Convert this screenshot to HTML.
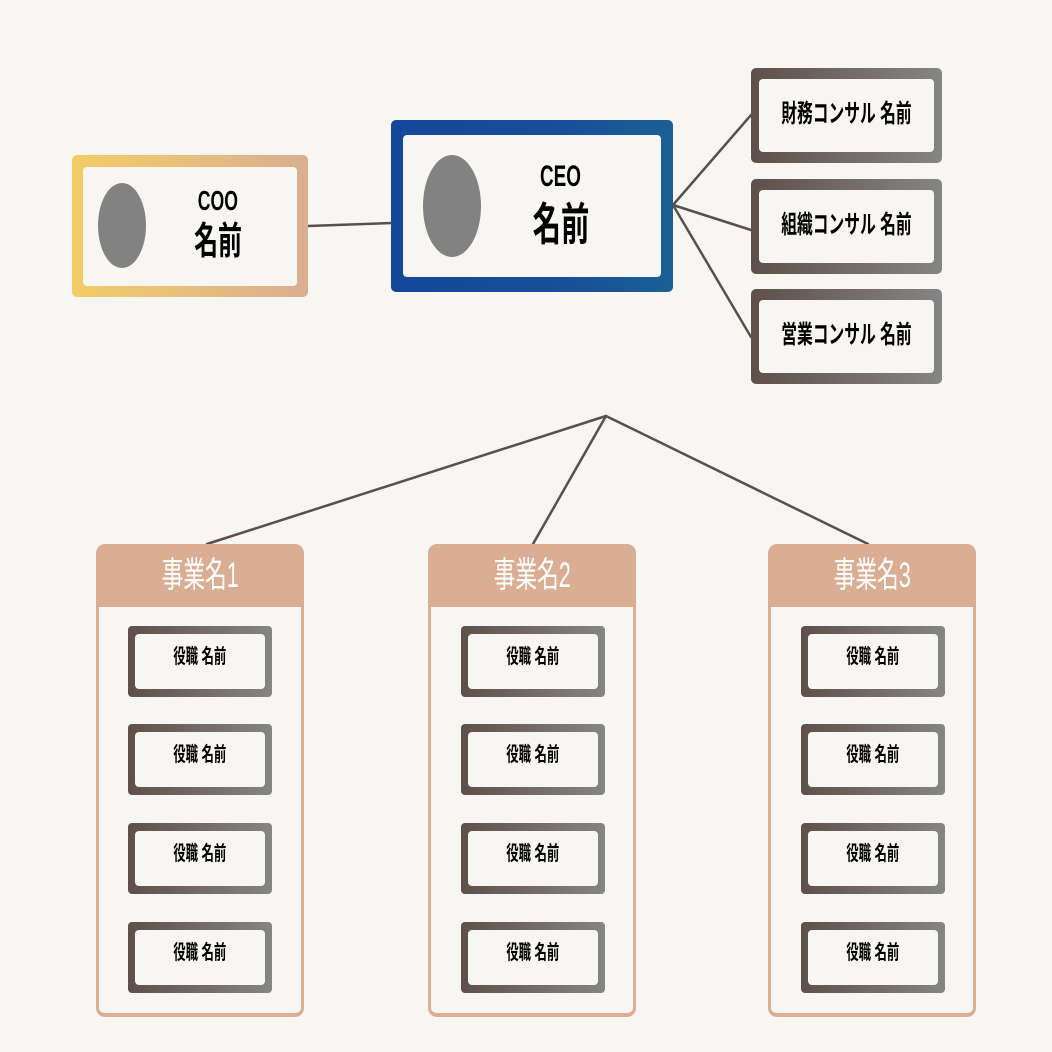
<!DOCTYPE html>
<html><head><meta charset="utf-8">
<style>
html,body{margin:0;padding:0;}
body{width:1052px;height:1052px;background:#f8f6f2;position:relative;overflow:hidden;font-family:"Liberation Sans","Noto Sans CJK JP",sans-serif;}
.abs{position:absolute;}
.box{position:absolute;border-radius:5px;}
.inner{position:absolute;background:#f8f6f2;border-radius:4px;display:flex;align-items:center;justify-content:center;flex-direction:column;}
.sq{display:inline-block;white-space:nowrap;font-weight:bold;color:#000;line-height:1;}
.gray{background:linear-gradient(90deg,#5e5049 0%,#858585 100%);}
.ell{position:absolute;background:#828282;border-radius:50%;}
.dept{position:absolute;width:208px;top:544px;height:473px;}
.dhead{position:absolute;left:0;top:0;width:208px;height:63px;background:#d9ae92;border-radius:9px 9px 0 0;display:flex;align-items:center;justify-content:center;}
.dhead span{display:inline-block;color:#fff;font-size:35px;font-family:"Liberation Sans","Noto Sans CJK JP",sans-serif;font-weight:normal;transform:scaleX(0.62);white-space:nowrap;line-height:1;margin-top:0px;}
.dbody{position:absolute;left:0;top:63px;width:202px;height:406px;border:3px solid #dcae92;border-top:none;border-bottom:4px solid #dcae92;border-radius:0 0 9px 9px;background:#f8f6f2;}
.role{position:absolute;width:144px;height:71px;border-radius:4px;}
.role .inner{left:7px;top:8px;right:7px;bottom:8px;}
.role .sq{font-size:20px;transform:scaleX(0.62);margin-top:-9px;}
.cons .inner{left:8px;top:11px;right:8px;bottom:11px;}
.cons .sq{font-size:25px;transform:scaleX(0.63);margin-top:-2px;}
</style></head><body>

<svg class="abs" style="left:0;top:0" width="1052" height="1052">
<g stroke="#5a4f4a" stroke-width="2.5" fill="none" stroke-linecap="round">
<line x1="308" y1="226" x2="391" y2="223"/>
<line x1="673" y1="205" x2="751" y2="115"/>
<line x1="673" y1="205" x2="751" y2="230"/>
<line x1="673" y1="205" x2="751" y2="337"/>
<line x1="606" y1="416" x2="207" y2="544"/>
<line x1="606" y1="416" x2="533" y2="544"/>
<line x1="606" y1="416" x2="868" y2="544"/>
</g>
</svg>

<!-- COO -->
<div class="box" style="left:72px;top:155px;width:236px;height:142px;background:linear-gradient(90deg,#f3cc66 0%,#e8c07a 45%,#d9ae92 100%);">
  <div class="inner" style="left:11px;top:12px;right:11px;bottom:11px;"></div>
</div>
<div class="ell" style="left:98px;top:183px;width:48px;height:85px;"></div>
<div class="abs" style="left:168px;top:187px;width:100px;text-align:center;"><span class="sq" style="font-size:28px;transform:scaleX(0.63);">COO</span></div>
<div class="abs" style="left:168px;top:223px;width:100px;text-align:center;"><span class="sq" style="font-size:38px;transform:scaleX(0.63);">名前</span></div>

<!-- CEO -->
<div class="box" style="left:391px;top:120px;width:282px;height:172px;background:linear-gradient(90deg,#14479a 0%,#174f98 60%,#1b6095 100%);">
  <div class="inner" style="left:12px;top:15px;right:12px;bottom:15px;"></div>
</div>
<div class="ell" style="left:423px;top:155px;width:58px;height:102px;"></div>
<div class="abs" style="left:511px;top:162px;width:100px;text-align:center;"><span class="sq" style="font-size:30px;transform:scaleX(0.63);">CEO</span></div>
<div class="abs" style="left:511px;top:202px;width:100px;text-align:center;"><span class="sq" style="font-size:45px;transform:scaleX(0.63);">名前</span></div>

<!-- consultants -->
<div class="box gray cons" style="left:751px;top:68px;width:191px;height:95px;"><div class="inner"><span class="sq">財務コンサル 名前</span></div></div>
<div class="box gray cons" style="left:751px;top:179px;width:191px;height:95px;"><div class="inner"><span class="sq">組織コンサル 名前</span></div></div>
<div class="box gray cons" style="left:751px;top:289px;width:191px;height:95px;"><div class="inner"><span class="sq">営業コンサル 名前</span></div></div>

<!-- departments -->
<div class="dept" style="left:96px;"><div class="dbody"></div><div class="dhead"><span>事業名1</span></div></div>
<div class="dept" style="left:428px;"><div class="dbody"></div><div class="dhead"><span>事業名2</span></div></div>
<div class="dept" style="left:768px;"><div class="dbody"></div><div class="dhead"><span>事業名3</span></div></div>

<!-- roles dept1 -->
<div class="role gray" style="left:128px;top:626px;"><div class="inner"><span class="sq">役職 名前</span></div></div>
<div class="role gray" style="left:128px;top:724px;"><div class="inner"><span class="sq">役職 名前</span></div></div>
<div class="role gray" style="left:128px;top:823px;"><div class="inner"><span class="sq">役職 名前</span></div></div>
<div class="role gray" style="left:128px;top:922px;"><div class="inner"><span class="sq">役職 名前</span></div></div>
<!-- roles dept2 -->
<div class="role gray" style="left:461px;top:626px;"><div class="inner"><span class="sq">役職 名前</span></div></div>
<div class="role gray" style="left:461px;top:724px;"><div class="inner"><span class="sq">役職 名前</span></div></div>
<div class="role gray" style="left:461px;top:823px;"><div class="inner"><span class="sq">役職 名前</span></div></div>
<div class="role gray" style="left:461px;top:922px;"><div class="inner"><span class="sq">役職 名前</span></div></div>
<!-- roles dept3 -->
<div class="role gray" style="left:801px;top:626px;"><div class="inner"><span class="sq">役職 名前</span></div></div>
<div class="role gray" style="left:801px;top:724px;"><div class="inner"><span class="sq">役職 名前</span></div></div>
<div class="role gray" style="left:801px;top:823px;"><div class="inner"><span class="sq">役職 名前</span></div></div>
<div class="role gray" style="left:801px;top:922px;"><div class="inner"><span class="sq">役職 名前</span></div></div>

</body></html>
